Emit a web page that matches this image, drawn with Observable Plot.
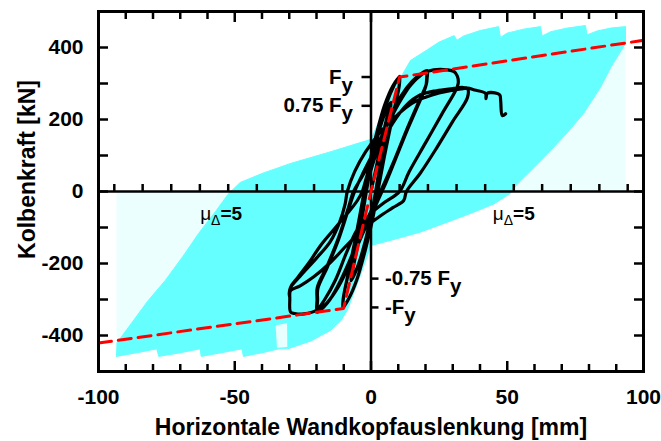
<!DOCTYPE html>
<html>
<head>
<meta charset="utf-8">
<script src="https://cdn.jsdelivr.net/npm/d3@7"></script>
<script src="https://cdn.jsdelivr.net/npm/@observablehq/plot@0.6"></script>
<style>
  html, body { margin: 0; padding: 0; background: #ffffff; }
</style>
</head>
<body>
<div id="chart"></div>
<script>
// ---------- axis ticks and labels ----------
const xLabelTicks = [-100, -50, 0, 50, 100];
const xMajorTicks = [-50, 0, 50];
const xMinorTicks = [-90, -80, -70, -60, -40, -30, -20, -10, 10, 20, 30, 40, 60, 70, 80, 90];
const yLabelTicks = [-400, -200, 0, 200, 400];
const yFrameTicks = [-400, -300, -200, -100, 0, 100, 200, 300, 400];
// ductility marks on the zero line (multiples of the yield displacement)
const ductilityTicks = [-94.2, -83.8, -73.3, -62.8, -52.4, -41.9, -31.4, -20.9, -10.5,
                        10.5, 20.9, 31.4, 41.9, 52.4, 62.8, 73.3, 83.8, 94.2];
const muLabelX = [-55, 52.4];
const muLabelY = -62;
// yield force marks on the vertical zero line
const yieldLabels = ["F", "0.75 F", "-0.75 F", "-F"];
const yieldValues = [318, 238, -242, -322];

// ---------- bilinear idealisation (red dashed) ----------
const bilinearX = [-100, -10.1, 0, 10.5, 100];
const bilinearY = [-421, -325, 0, 318, 420];

// ---------- simulated hysteresis envelope (cyan outline) ----------
const envelope = [
  [-93.4, -458], [-93.2, -420], [-88, -367], [-82, -305], [-75.5, -247], [-69, -180],
  [-63.3, -117], [-57, -55], [-52.3, -6], [-48, 25], [-40, 50], [-29.5, 78], [-15, 110],
  [0, 145], [5, 230], [10, 305], [14.5, 364], [20.7, 394], [25, 415], [30.5, 433],
  [31.5, 420], [34, 432], [40, 447], [46.8, 458], [47.5, 428], [50, 440], [56, 451],
  [62.2, 458], [62.8, 432], [66, 444], [72, 454], [78.7, 461], [79.3, 435], [83, 446],
  [88, 454], [93.4, 458], [93.4, 411], [88, 345], [84.2, 289], [78, 217], [72, 163],
  [65.9, 114], [60, 68], [53.8, 22], [51, -6], [45, -35], [36.5, -61], [27, -88],
  [18, -113], [9, -132], [0, -150], [-4, -235], [-8.7, -330], [-11, -358], [-14.9, -386],
  [-22, -415], [-30.6, -437], [-33.8, -437], [-40, -448], [-46.8, -458], [-47.4, -437],
  [-55, -448], [-62.3, -458], [-62.7, -437], [-70, -448], [-77.9, -458], [-78.6, -437],
  [-86, -448], [-93.4, -458]
];
const envelopeHole = [[-35, -372], [-30.8, -365], [-30.7, -432], [-34.5, -434]];

// ---------- measured hysteresis (black) ----------
const cycles075 = [
  [0, 0], [2, 70], [4, 145], [6, 210], [7.3, 245], [7.2, 232], [5.5, 170], [3.5, 80], [1.8, 0],
  [0, -70], [-2.5, -150], [-5, -210], [-7.3, -245], [-7.2, -232], [-5.5, -170], [-3.5, -80], [-1.8, 0],
  [0, 75], [2.5, 155], [5, 215], [7.3, 248], [7.2, 235], [5.3, 165], [3.3, 75], [1.7, 0],
  [-0.2, -75], [-2.7, -155], [-5.2, -215], [-7.3, -248], [-7.2, -236], [-5.3, -165], [-3.3, -75], [-1.7, 0]
];
const cyclesFy = [
  [0, 70], [2.5, 160], [5.5, 240], [8.5, 295], [10.5, 320], [10.4, 295], [8, 210], [5, 100], [2.5, 0],
  [0.5, -80], [-2, -160], [-5, -240], [-8, -295], [-10.3, -323], [-10.2, -298], [-8, -215], [-5.2, -110], [-2.5, 0],
  [-0.5, 80], [2, 160], [5, 240], [8, 293], [10.4, 318], [10.3, 292], [7.8, 205], [4.8, 95], [2.3, 0],
  [0.3, -85], [-2.2, -165], [-5.2, -245], [-8.2, -298], [-10.2, -320], [-10.1, -295], [-7.8, -210], [-5, -105], [-2.3, 0]
];
const cycles20 = [
  [0, 60], [3, 130], [7, 205], [11, 265], [15, 305], [18, 325], [20.6, 336], [20.6, 315], [20.3, 298],
  [17, 240], [13, 170], [9, 95], [5, 25], [3.5, 0], [0, -55], [-4, -120], [-8, -195], [-12, -260],
  [-16, -310], [-19.7, -335], [-19.8, -300], [-19.7, -266], [-16, -205], [-12, -130], [-8.5, -50], [-6.4, 0],
  [-3, 45], [1, 105], [5, 170], [10, 245], [14, 290], [17.5, 318], [20.3, 330], [20.4, 310], [20.1, 292],
  [17, 235], [13, 165], [9, 90], [5.5, 25], [4, 0], [0.5, -60], [-3.5, -125], [-8, -205], [-12, -265],
  [-16, -308], [-19.5, -330], [-19.6, -300], [-19.5, -270], [-16, -210], [-12, -135], [-8.5, -55], [-6, 0]
];
const cycles30 = [
  [-3, 50], [1, 110], [6, 185], [11, 255], [15, 300], [19, 328], [23, 338], [28, 338], [30.5, 333],
  [31.7, 320], [32, 300], [31, 280], [26, 215], [20, 135], [14, 55], [10.5, 0], [5, -30], [0, -61],
  [-5, -105], [-9, -170], [-13, -245], [-17, -300], [-20, -330], [-24.7, -340], [-28, -339], [-29.5, -335],
  [-29.8, -300], [-29.5, -266], [-27, -240], [-22.5, -195], [-18.5, -150], [-13, -100], [-8, -55], [-5, -25], [-3.2, 0],
  [-1, 55], [3, 120], [8, 190], [13, 240], [18, 268], [24, 280], [30, 286], [33.5, 289], [35.4, 286],
  [35.4, 261], [30, 195], [24, 120], [18, 50], [13, 0], [12, -25], [8, -45], [3, -70], [-3, -105],
  [-9, -150], [-15, -198], [-21, -237], [-26, -262], [-29.5, -275], [-30, -290], [-29.6, -268],
  [-26, -235], [-20, -185], [-15, -140], [-11.5, -85], [-9.5, -35], [-8.7, 0]
];
const finalPush = [
  [-6, 55], [-2, 110], [4, 170], [10, 215], [15, 245], [20, 262], [25, 274], [29, 280], [33, 285],
  [35.4, 287], [38, 282], [42, 273], [42.2, 258], [42.7, 273], [46.4, 272], [47.3, 268], [47.6, 250],
  [48.2, 211], [49.4, 216]
];
const hysteresis = [...cycles075, ...cyclesFy, ...cycles20, ...cycles30, ...finalPush];

// regions of sparse simulated branches (pale hatching) built from the envelope outline
const faintLeft = [[-93.4, 0], ...envelope.slice(0, 9), [-52.3, 0]];
const faintRight = [[93.4, 0], ...envelope.slice(36, 45), [51, 0]];

const cyan = "#66ffff";
const fontFamily = "'Liberation Sans', Arial, Helvetica, sans-serif";

const yieldAnnot = yieldValues.map((v, i) => ({v, label: yieldLabels[i]}));

const chart = Plot.plot({
  width: 661,
  height: 441,
  marginLeft: 98,
  marginRight: 18,
  marginTop: 11,
  marginBottom: 70,
  x: {domain: [-100, 100]},
  y: {domain: [-500, 500]},
  style: {fontFamily, fontWeight: "bold", fontSize: "21px", color: "#000", background: "#fff", overflow: "visible"},
  marks: [
    Plot.line(faintLeft, {x: d => d[0], y: d => d[1], fill: cyan, fillOpacity: 0.12, stroke: null}),
    Plot.line(faintRight, {x: d => d[0], y: d => d[1], fill: cyan, fillOpacity: 0.12, stroke: null}),
    Plot.line(envelope, {x: d => d[0], y: d => d[1], fill: cyan, stroke: cyan, strokeWidth: 1}),
    Plot.line(envelopeHole, {x: d => d[0], y: d => d[1], fill: "#fff", fillOpacity: 0.85, stroke: null}),
    Plot.ruleY([0], {strokeWidth: 2.5}),
    Plot.ruleX([0], {strokeWidth: 2.5}),
    Plot.ruleX(ductilityTicks, {x: d => d, y1: 0, y2: 0, insetTop: 0, insetBottom: 7, strokeWidth: 2.5}),
    Plot.ruleY(yieldValues.filter(v => v > 0), {y: d => d, x1: 0, x2: 0, insetLeft: -9, insetRight: 0, strokeWidth: 2.5}),
    Plot.ruleY(yieldValues.filter(v => v < 0), {y: d => d, x1: 0, x2: 0, insetLeft: 0, insetRight: -8, strokeWidth: 2.5}),
    Plot.line(hysteresis, {x: d => d[0], y: d => d[1], curve: "catmull-rom", stroke: "#000", strokeWidth: 3.2, strokeLinejoin: "round", strokeLinecap: "round"}),
    Plot.line(bilinearX.map((x, i) => [x, bilinearY[i]]), {x: d => d[0], y: d => d[1], stroke: "#ff0000", strokeWidth: 3, strokeDasharray: "13,7", clip: true}),
    Plot.frame({strokeWidth: 3}),
    // inward frame ticks
    Plot.axisX({ticks: xMinorTicks, anchor: "bottom", tickSize: -7, strokeWidth: 2.5, fill: "none", label: null}),
    Plot.axisX({ticks: xMinorTicks, anchor: "top", tickSize: -7, strokeWidth: 2.5, fill: "none", label: null}),
    Plot.axisX({ticks: xMajorTicks, anchor: "bottom", tickSize: -10, strokeWidth: 2.5, fill: "none", label: null}),
    Plot.axisX({ticks: xMajorTicks, anchor: "top", tickSize: -10, strokeWidth: 2.5, fill: "none", label: null}),
    Plot.axisY({ticks: yFrameTicks, anchor: "left", tickSize: -10, strokeWidth: 2.5, fill: "none", label: null}),
    Plot.axisY({ticks: yFrameTicks, anchor: "right", tickSize: -10, strokeWidth: 2.5, fill: "none", label: null}),
    // tick labels
    Plot.axisX({ticks: xLabelTicks, anchor: "bottom", tickSize: 0, tickPadding: 18, tickFormat: d => String(d), label: null}),
    Plot.axisY({ticks: yLabelTicks, anchor: "left", tickSize: 0, tickPadding: 15, tickFormat: d => String(d), label: null}),
    // axis titles
    Plot.text(["Horizontale Wandkopfauslenkung [mm]"], {text: d => d, frameAnchor: "bottom", dy: 63, fontSize: 23, textAnchor: "middle"}),
    Plot.text(["Kolbenkraft [kN]"], {text: d => d, frameAnchor: "left", dx: -71, dy: -22, rotate: -90, fontSize: 23, textAnchor: "middle"}),
    // yield force annotations
    Plot.text(yieldAnnot.filter(d => d.v > 0), {x: 0, y: "v", text: "label", textAnchor: "end", dx: -18, fontSize: 20.5}),
    Plot.text(yieldAnnot.filter(d => d.v < 0), {x: 0, y: "v", text: "label", textAnchor: "start", dx: 14, fontSize: 20.5}),
    // ductility annotations
    Plot.text(muLabelX, {x: d => d, y: muLabelY, text: () => "μ", textAnchor: "middle", fontSize: 19, fontWeight: "normal"})
  ]
});

// subscripts: "y" of F_y and "Δ" of μ_Δ
const svgRoot = d3.select(chart);
svgRoot.selectAll("text").filter(function() {
  return this.childElementCount === 0 && yieldLabels.includes(this.textContent);
}).each(function() {
  d3.select(this).append("tspan").attr("dy", 8).text("y");
});
svgRoot.selectAll("text").filter(function() {
  return this.childElementCount === 0 && this.textContent === "μ";
}).each(function() {
  const t = d3.select(this);
  t.append("tspan").attr("dy", 5).attr("font-size", 14).attr("font-weight", "normal").text("Δ");
  t.append("tspan").attr("dy", -5).attr("font-size", 19).attr("font-weight", "bold").text("=5");
});

document.getElementById("chart").appendChild(chart);
</script>
</body>
</html>
